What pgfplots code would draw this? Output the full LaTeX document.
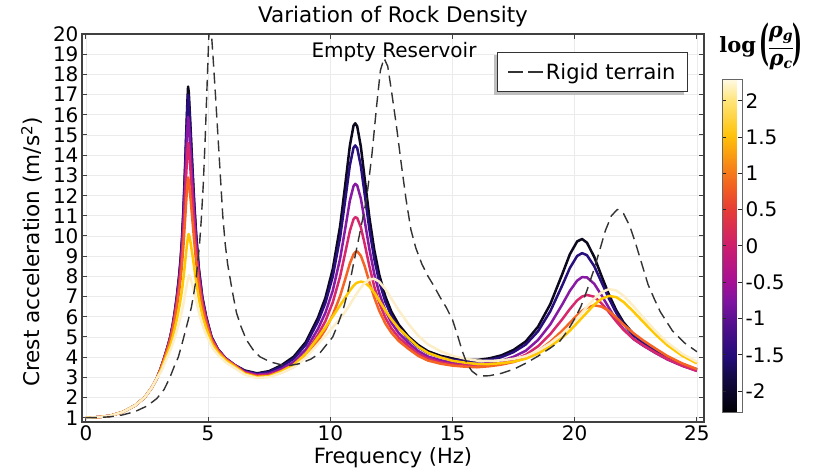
\documentclass[border=0pt]{standalone}
\usepackage[no-math]{fontspec}
\setmainfont{DejaVu Sans}
\newfontfamily\dvserif{DejaVu Serif}
\usepackage{graphicx}
\usepackage{pgfplots}
\pgfplotsset{compat=1.18}
\definecolor{cK}{RGB}{12,8,30}
\definecolor{cI}{RGB}{40,15,125}
\definecolor{cP}{RGB}{135,25,165}
\definecolor{cC}{RGB}{215,40,110}
\definecolor{cO}{RGB}{245,100,35}
\definecolor{cY}{RGB}{255,200,0}
\definecolor{cW}{RGB}{252,238,200}
\pgfplotsset{colormap={rockmap}{rgb255(0pt)=(0,0,4) rgb255(50pt)=(20,10,70) rgb255(77pt)=(35,12,120) rgb255(120pt)=(80,15,140) rgb255(153pt)=(125,20,160) rgb255(180pt)=(165,15,150) rgb255(230pt)=(205,30,110) rgb255(280pt)=(230,60,55) rgb255(307pt)=(240,90,35) rgb255(330pt)=(245,120,25) rgb255(383pt)=(255,195,10) rgb255(430pt)=(255,228,120) rgb255(460pt)=(255,250,230)}}
\begin{document}
\begin{tikzpicture}
\begin{axis}[name=main,
 scale only axis, width=622pt, height=388pt,
 xmin=-0.16, xmax=25.29, ymin=0.79, ymax=20,
 xtick={0,5,10,15,20,25}, ytick={1,2,...,20},
 grid=major, major grid style={black!8, line width=0.8pt},
 axis line style={line width=1.2pt, black!75},
 tick style={black!75, line width=1pt}, major tick length=5pt,
 tick label style={font=\fontsize{20}{22}\selectfont},
 /pgf/number format/assume math mode=true,
 xlabel={Frequency (Hz)},
 label style={font=\fontsize{21}{24}\selectfont},
 title={Variation of Rock Density}, title style={font=\fontsize{21.5}{24}\selectfont, yshift=-3pt},
 clip mode=individual,
 colormap name=rockmap, colorbar, point meta min=-2.3, point meta max=2.3,
 colorbar style={at={(1.029,0.0232)}, anchor=south west, scale only axis,
   width=20pt, height=334pt,
   ytick={-2,-1.5,-1,-0.5,0,0.5,1,1.5,2},
   yticklabel style={font=\fontsize{20}{22}\selectfont, /pgf/number format/fixed, /pgf/number format/assume math mode=true},
   axis line style={draw=black!60, line width=1pt},
   ytick style={draw=black!85, line width=1pt}, major tick length=4pt,
   tick align=inside, ytick pos=both, yticklabel pos=right},
 legend style={at={(0.9743,0.9541)}, anchor=north east, draw=black!80, line width=1pt,
   fill=white, font=\fontsize{21}{24}\selectfont, inner xsep=10pt, inner ysep=9pt},
 legend image code/.code={\draw[#1, dash pattern=on 15pt off 5pt] (0pt,0pt) -- (35pt,0pt);},
 every axis plot/.append style={line join=round},
]
\fill[black!25] (rel axis cs:0.6624,0.8428) rectangle (rel axis cs:0.9678,0.9459);
% black  log = -2.3
\addplot[forget plot, color=cK, line width=2.5pt] coordinates {(0,1.0) (0.5,1.03) (1.0,1.1) (1.5,1.28) (2.0,1.6) (2.4,2.0) (2.7,2.5) (2.9,2.95) (3.05,3.4) (3.2,3.95) (3.35,4.55) (3.45,5.0) (3.55,5.6) (3.63,6.2) (3.72,7.0) (3.82,8.1) (3.88,8.95) (3.93,9.85) (3.99,11.3) (4.06,13.5) (4.11,15.3) (4.15,16.6) (4.18,17.4) (4.21,17.1) (4.26,15.9) (4.35,13.6) (4.43,11.7) (4.51,10.1) (4.62,8.4) (4.76,7.0) (4.92,6.0) (5.14,5.0) (5.4,4.4) (5.71,3.95) (6.1,3.6) (6.5,3.34) (7.0,3.20) (7.5,3.31) (8.0,3.60) (8.5,4.02) (9.0,4.75) (9.5,5.97) (9.8,6.94) (10.1,8.36) (10.4,10.48) (10.6,12.43) (10.8,14.47) (10.95,15.46) (11.02,15.58) (11.1,15.43) (11.25,14.42) (11.4,12.91) (11.6,10.91) (11.8,9.30) (12.0,8.09) (12.25,7.01) (12.5,6.25) (12.8,5.61) (13.2,5.02) (13.6,4.60) (14.0,4.29) (14.5,4.07) (15.0,3.94) (15.5,3.88) (16.0,3.86) (16.5,3.94) (17.0,4.09) (17.5,4.36) (18.0,4.78) (18.5,5.51) (19.0,6.62) (19.5,8.14) (19.8,9.09) (20.1,9.73) (20.3,9.85) (20.5,9.67) (20.8,8.96) (21.1,8.01) (21.4,7.10) (21.7,6.32) (22.0,5.72) (22.4,5.15) (22.8,4.76) (23.3,4.35) (23.8,4.00) (24.4,3.66) (25.0,3.39)};
% indigo log = -1.53
\addplot[forget plot, color=cI, line width=2.5pt] coordinates {(0,1.0) (0.5,1.03) (1.0,1.1) (1.5,1.28) (2.0,1.6) (2.4,2.0) (2.7,2.5) (2.9,2.95) (3.05,3.40) (3.2,3.95) (3.35,4.54) (3.45,4.99) (3.55,5.58) (3.63,6.17) (3.72,6.96) (3.82,8.04) (3.88,8.87) (3.93,9.75) (3.99,11.16) (4.06,13.28) (4.11,15.0) (4.15,16.24) (4.18,16.99) (4.21,16.7) (4.26,15.57) (4.35,13.37) (4.43,11.54) (4.51,9.99) (4.62,8.33) (4.76,6.96) (4.92,5.98) (5.14,4.99) (5.4,4.39) (5.71,3.95) (6.1,3.60) (6.5,3.31) (7.0,3.17) (7.5,3.27) (8.0,3.53) (8.5,3.92) (9.0,4.62) (9.5,5.78) (9.8,6.69) (10.1,7.99) (10.4,9.92) (10.6,11.68) (10.8,13.50) (10.95,14.37) (11.02,14.48) (11.1,14.35) (11.25,13.46) (11.4,12.12) (11.6,10.32) (11.8,8.86) (12.0,7.75) (12.25,6.75) (12.5,6.05) (12.8,5.45) (13.2,4.90) (13.6,4.49) (14.0,4.20) (14.5,4.00) (15.0,3.87) (15.5,3.81) (16.0,3.79) (16.5,3.86) (17.0,4.00) (17.5,4.25) (18.0,4.63) (18.5,5.28) (19.0,6.27) (19.5,7.58) (19.8,8.41) (20.1,9.01) (20.3,9.15) (20.5,9.05) (20.8,8.50) (21.1,7.70) (21.4,6.90) (21.7,6.19) (22.0,5.63) (22.4,5.08) (22.8,4.71) (23.3,4.32) (23.8,3.97) (24.4,3.63) (25.0,3.38)};
% purple log = -0.77
\addplot[forget plot, color=cP, line width=2.5pt] coordinates {(0,1.0) (0.5,1.03) (1.0,1.1) (1.5,1.28) (2.0,1.6) (2.4,2.0) (2.7,2.5) (2.9,2.95) (3.05,3.39) (3.2,3.93) (3.35,4.52) (3.45,4.95) (3.55,5.53) (3.63,6.10) (3.72,6.85) (3.82,7.87) (3.88,8.65) (3.93,9.46) (3.99,10.76) (4.06,12.66) (4.11,14.18) (4.15,15.26) (4.18,15.90) (4.21,15.66) (4.26,14.68) (4.35,12.75) (4.43,11.11) (4.51,9.69) (4.62,8.15) (4.76,6.85) (4.92,5.91) (5.14,4.95) (5.4,4.37) (5.71,3.93) (6.1,3.59) (6.5,3.28) (7.0,3.13) (7.5,3.19) (8.0,3.42) (8.5,3.76) (9.0,4.38) (9.5,5.41) (9.8,6.20) (10.1,7.29) (10.4,8.87) (10.6,10.29) (10.8,11.75) (10.95,12.47) (11.02,12.58) (11.1,12.50) (11.25,11.85) (11.4,10.80) (11.6,9.34) (11.8,8.12) (12.0,7.18) (12.25,6.32) (12.5,5.71) (12.8,5.19) (13.2,4.70) (13.6,4.30) (14.0,4.03) (14.5,3.85) (15.0,3.73) (15.5,3.67) (16.0,3.65) (16.5,3.71) (17.0,3.82) (17.5,4.02) (18.0,4.32) (18.5,4.85) (19.0,5.62) (19.5,6.63) (19.8,7.28) (20.1,7.79) (20.3,7.96) (20.5,7.95) (20.8,7.63) (21.1,7.06) (21.4,6.44) (21.7,5.85) (22.0,5.38) (22.4,4.90) (22.8,4.57) (23.3,4.21) (23.8,3.88) (24.4,3.57) (25.0,3.32)};
% crimson log = 0
\addplot[forget plot, color=cC, line width=2.5pt] coordinates {(0,1.0) (0.5,1.03) (1.0,1.1) (1.5,1.28) (2.0,1.6) (2.4,2.0) (2.7,2.5) (2.9,2.95) (3.05,3.39) (3.2,3.92) (3.35,4.49) (3.45,4.91) (3.55,5.46) (3.63,6.00) (3.72,6.71) (3.82,7.65) (3.88,8.37) (3.93,9.10) (3.99,10.25) (4.06,11.90) (4.11,13.18) (4.15,14.07) (4.18,14.61) (4.21,14.40) (4.26,13.60) (4.35,11.97) (4.43,10.55) (4.51,9.30) (4.62,7.91) (4.76,6.71) (4.92,5.82) (5.14,4.91) (5.4,4.35) (5.71,3.92) (6.1,3.58) (6.5,3.24) (7.0,3.09) (7.5,3.13) (8.0,3.33) (8.5,3.64) (9.0,4.19) (9.5,5.12) (9.8,5.79) (10.1,6.71) (10.4,7.99) (10.6,9.11) (10.8,10.25) (10.95,10.83) (11.02,10.93) (11.1,10.89) (11.25,10.43) (11.4,9.64) (11.6,8.49) (11.8,7.49) (12.0,6.70) (12.25,5.96) (12.5,5.43) (12.8,4.97) (13.2,4.54) (13.6,4.16) (14.0,3.92) (14.5,3.75) (15.0,3.64) (15.5,3.59) (16.0,3.56) (16.5,3.61) (17.0,3.71) (17.5,3.87) (18.0,4.12) (18.5,4.54) (19.0,5.14) (19.5,5.89) (19.8,6.38) (20.1,6.81) (20.3,7.00) (20.5,7.08) (20.8,6.99) (21.1,6.66) (21.4,6.23) (21.7,5.77) (22.0,5.35) (22.4,4.91) (22.8,4.59) (23.3,4.23) (23.8,3.90) (24.4,3.58) (25.0,3.32)};
% orange log = 0.77
\addplot[forget plot, color=cO, line width=2.5pt] coordinates {(0,1.0) (0.5,1.03) (1.0,1.1) (1.5,1.28) (2.0,1.6) (2.4,2.0) (2.7,2.5) (2.9,2.95) (3.05,3.38) (3.2,3.89) (3.35,4.43) (3.45,4.83) (3.55,5.34) (3.63,5.84) (3.72,6.48) (3.82,7.31) (3.88,7.93) (3.93,8.55) (3.99,9.51) (4.06,10.83) (4.11,11.83) (4.15,12.5) (4.18,12.9) (4.21,12.75) (4.26,12.14) (4.35,10.89) (4.43,9.76) (4.51,8.72) (4.62,7.54) (4.76,6.48) (4.92,5.68) (5.14,4.83) (5.4,4.30) (5.71,3.89) (6.1,3.57) (6.5,3.20) (7.0,3.04) (7.5,3.07) (8.0,3.24) (8.5,3.52) (9.0,4.02) (9.5,4.81) (9.8,5.37) (10.1,6.09) (10.4,7.02) (10.6,7.82) (10.8,8.64) (10.95,9.09) (11.02,9.20) (11.1,9.24) (11.25,9.02) (11.4,8.53) (11.6,7.72) (11.8,6.95) (12.0,6.30) (12.25,5.67) (12.5,5.21) (12.8,4.80) (13.2,4.41) (13.6,4.06) (14.0,3.83) (14.5,3.68) (15.0,3.58) (15.5,3.53) (16.0,3.50) (16.5,3.55) (17.0,3.63) (17.5,3.76) (18.0,3.96) (18.5,4.30) (19.0,4.76) (19.5,5.32) (19.8,5.70) (20.1,6.08) (20.3,6.29) (20.5,6.45) (20.8,6.57) (21.1,6.50) (21.4,6.29) (21.7,5.96) (22.0,5.61) (22.4,5.19) (22.8,4.83) (23.3,4.43) (23.8,4.05) (24.4,3.69) (25.0,3.41)};
% yellow log = 1.53
\addplot[forget plot, color=cY, line width=2.5pt] coordinates {(0,1.0) (0.5,1.03) (1.0,1.1) (1.5,1.28) (2.0,1.6) (2.4,2.0) (2.7,2.5) (2.9,2.95) (3.07,3.35) (3.22,3.83) (3.37,4.31) (3.47,4.65) (3.57,5.08) (3.65,5.49) (3.74,5.99) (3.84,6.61) (3.90,7.06) (3.95,7.49) (4.01,8.11) (4.08,8.94) (4.13,9.51) (4.17,9.89) (4.20,10.10) (4.23,10.02) (4.28,9.69) (4.37,8.97) (4.45,8.27) (4.53,7.60) (4.64,6.77) (4.78,5.99) (4.94,5.36) (5.16,4.65) (5.42,4.19) (5.73,3.83) (6.12,3.50) (6.5,3.18) (7.0,3.01) (7.5,3.06) (8.0,3.30) (8.5,3.62) (9.0,4.17) (9.5,4.98) (9.8,5.48) (10.1,6.02) (10.4,6.56) (10.6,6.93) (10.8,7.30) (10.95,7.53) (11.02,7.62) (11.1,7.69) (11.25,7.74) (11.4,7.70) (11.6,7.50) (11.8,7.19) (12.0,6.81) (12.25,6.32) (12.5,5.88) (12.8,5.43) (13.2,4.95) (13.6,4.51) (14.0,4.21) (14.5,3.99) (15.0,3.82) (15.5,3.73) (16.0,3.66) (16.5,3.66) (17.0,3.70) (17.5,3.78) (18.0,3.92) (18.5,4.18) (19.0,4.53) (19.5,4.97) (19.8,5.31) (20.1,5.69) (20.3,5.95) (20.5,6.21) (20.8,6.60) (21.1,6.89) (21.4,7.03) (21.7,6.97) (22.0,6.73) (22.4,6.26) (22.8,5.75) (23.3,5.13) (23.8,4.58) (24.4,4.07) (25.0,3.69)};
% cream log = 2.3
\addplot[forget plot, color=cW, line width=2.5pt] coordinates {(0,1.0) (0.5,1.03) (1.0,1.1) (1.5,1.28) (2.0,1.6) (2.4,2.0) (2.7,2.5) (2.9,2.95) (3.09,3.32) (3.24,3.75) (3.39,4.16) (3.49,4.45) (3.59,4.80) (3.67,5.11) (3.76,5.48) (3.86,5.93) (3.92,6.23) (3.97,6.51) (4.03,6.91) (4.10,7.40) (4.15,7.73) (4.19,7.94) (4.22,8.05) (4.25,8.01) (4.30,7.83) (4.39,7.42) (4.47,7.01) (4.55,6.59) (4.66,6.04) (4.80,5.48) (4.96,5.01) (5.18,4.45) (5.44,4.06) (5.75,3.72) (6.14,3.42) (6.5,3.13) (7.0,2.97) (7.5,3.01) (8.0,3.22) (8.5,3.50) (9.0,3.98) (9.5,4.66) (9.8,5.06) (10.1,5.48) (10.4,5.90) (10.6,6.23) (10.8,6.60) (10.95,6.90) (11.02,7.03) (11.1,7.18) (11.25,7.44) (11.4,7.66) (11.6,7.85) (11.8,7.88) (12.0,7.74) (12.25,7.37) (12.5,6.90) (12.8,6.32) (13.2,5.64) (13.6,5.06) (14.0,4.63) (14.5,4.30) (15.0,4.07) (15.5,3.93) (16.0,3.83) (16.5,3.81) (17.0,3.84) (17.5,3.92) (18.0,4.05) (18.5,4.32) (19.0,4.69) (19.5,5.16) (19.8,5.52) (20.1,5.92) (20.3,6.20) (20.5,6.49) (20.8,6.90) (21.1,7.21) (21.4,7.37) (21.7,7.30) (22.0,7.04) (22.4,6.53) (22.8,5.97) (23.3,5.30) (23.8,4.72) (24.4,4.17) (25.0,3.77)};
% rigid terrain
\addplot[color=black!80, line width=1.4pt, dash pattern=on 11pt off 6pt] coordinates {(0,1.0) (0.5,1.01) (1.0,1.05) (1.5,1.14) (2.0,1.3) (2.5,1.58) (2.9,1.95) (3.2,2.4) (3.44,3.0) (3.6,3.5) (3.78,4.0) (3.92,4.6) (4.05,5.2) (4.2,5.9) (4.32,6.5) (4.42,7.2) (4.5,7.8) (4.58,8.7) (4.65,9.6) (4.72,10.8) (4.8,12.5) (4.88,14.8) (4.95,17.2) (5.02,19.6) (5.07,21.0) (5.12,20.3) (5.2,18.9) (5.3,17.0) (5.4,15.0) (5.5,13.0) (5.6,11.0) (5.7,9.6) (5.8,8.6) (5.9,7.9) (6.0,7.2) (6.16,6.2) (6.35,5.5) (6.57,4.85) (6.85,4.35) (7.12,4.02) (7.53,3.77) (8.0,3.62) (8.3,3.58) (8.75,3.68) (9.2,3.9) (9.57,4.2) (9.9,4.7) (10.1,5.0) (10.3,5.6) (10.52,6.33) (10.75,7.4) (10.93,8.5) (11.2,10.1) (11.48,11.8) (11.7,14.0) (11.9,16.5) (12.05,18.2) (12.2,18.8) (12.35,18.4) (12.5,17.2) (12.7,15.5) (12.9,13.6) (13.1,11.8) (13.3,10.3) (13.5,9.4) (13.75,8.6) (14.0,8.0) (14.25,7.5) (14.5,6.95) (14.75,6.45) (15.0,5.85) (15.2,5.1) (15.4,4.3) (15.6,3.65) (15.8,3.3) (16.0,3.12) (16.25,3.07) (16.5,3.08) (17.0,3.2) (17.5,3.4) (18.0,3.7) (18.5,4.05) (19.0,4.45) (19.4,4.8) (19.7,5.3) (20.0,5.9) (20.25,6.5) (20.5,7.3) (20.75,8.2) (21.0,9.2) (21.25,10.25) (21.5,11.0) (21.75,11.32) (22.0,11.1) (22.25,10.5) (22.5,9.6) (22.75,8.6) (23.0,7.6) (23.25,6.9) (23.5,6.25) (24.0,5.3) (24.5,4.7) (25.0,4.27)};
\addlegendentry{Rigid terrain}
\end{axis}
\node[rotate=90, font=\fontsize{21.6}{24}\selectfont] at ([xshift=-50pt,yshift=170pt]main.south west) {Crest acceleration (m/s\textsuperscript{2})};
\node[font=\fontsize{20}{24}\selectfont] at ([xshift=312pt,yshift=-18pt]main.north west) {Empty Reservoir};
\node[font=\dvserif\fontsize{21}{24}\selectfont\bfseries, inner sep=0pt] at ([xshift=57pt,yshift=-13pt]main.north east) {log\hspace{3pt}\raisebox{-7.5pt}{\scalebox{1}[2.3]{(}}\setlength{\arrayrulewidth}{1.3pt}\begin{tabular}{@{}c@{}}\itshape ρ\raisebox{-3pt}{\fontsize{14}{14}\selectfont g}\\[2.5pt]\hline\itshape ρ\raisebox{-3pt}{\fontsize{14}{14}\selectfont c}\end{tabular}\raisebox{-7.5pt}{\scalebox{1}[2.3]{)}}};
\pgfresetboundingbox
\path[use as bounding box] (main.south west) ++(-82pt,-46pt) rectangle ++(814pt,468pt);
\end{tikzpicture}
\end{document}
